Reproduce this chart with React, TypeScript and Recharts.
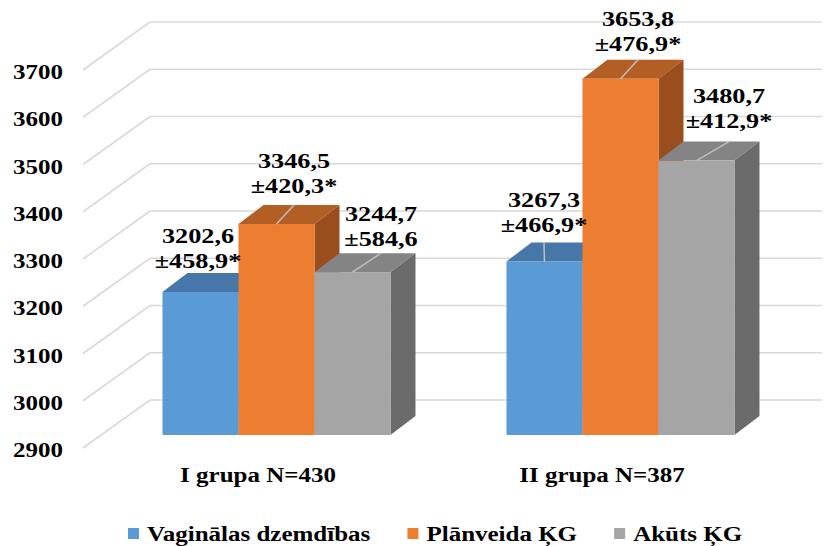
import { BarChart, Bar, XAxis, YAxis, CartesianGrid, Legend, LabelList } from "recharts";

const GROUPS = ["I grupa N=430", "II grupa N=387"];

const VAGINAL = [3202.6, 3267.3];
const VAGINAL_SD = [458.9, 466.9];
const VAGINAL_SIG = [true, true];

const PLANNED = [3346.5, 3653.8];
const PLANNED_SD = [420.3, 476.9];
const PLANNED_SIG = [true, true];

const ACUTE = [3244.7, 3480.7];
const ACUTE_SD = [584.6, 412.9];
const ACUTE_SIG = [false, true];

const Y_TICKS = [2900, 3000, 3100, 3200, 3300, 3400, 3500, 3600, 3700];

const WIDTH = 826;
const HEIGHT = 546;
const FONT = "'Liberation Serif', 'Times New Roman', serif";
const STRETCH = 1.25; // glyphs are drawn a bit wider than tall

// fake 3D: bars sit a little behind the axis plane and have their own depth
const SHIFT_X = 18;
const SHIFT_Y = -13;
const DEPTH_X = 25;
const DEPTH_Y = -19;
// the back wall of the plot
const WALL_X = 64;
const WALL_Y = -48;

const SERIES = [
  {
    key: "vaginal",
    name: "Vaginālas dzemdības",
    values: VAGINAL,
    sd: VAGINAL_SD,
    sig: VAGINAL_SIG,
    front: "#5B9BD5",
    top: "#4677A8",
    side: "#3F6C98",
    nudge: [[-15, -5], [-13, -10]],
    leader: [false, true],
  },
  {
    key: "planned",
    name: "Plānveida ĶG",
    values: PLANNED,
    sd: PLANNED_SD,
    sig: PLANNED_SIG,
    front: "#ED7D31",
    top: "#B35E24",
    side: "#9A4E1D",
    nudge: [[5, -12], [5, -9]],
    leader: [true, true],
  },
  {
    key: "acute",
    name: "Akūts ĶG",
    values: ACUTE,
    sd: ACUTE_SD,
    sig: ACUTE_SIG,
    front: "#A5A5A5",
    top: "#848484",
    side: "#6B6B6B",
    nudge: [[16, -7], [20, -14]],
    leader: [true, true],
  },
];

const data = GROUPS.map((group, i) => {
  const row: Record<string, string | number> = { group };
  SERIES.forEach((s) => (row[s.key] = s.values[i]));
  return row;
});

const fmt = (v: number) => v.toFixed(1).replace(".", ",");

function Stretch({ x, y, size, anchor = "middle", children }: any) {
  return (
    <g transform={`translate(${x},${y}) scale(${STRETCH},1)`}>
      <text
        x={0}
        y={0}
        textAnchor={anchor}
        fontFamily={FONT}
        fontWeight={700}
        fontSize={size}
        fill="#000"
      >
        {children}
      </text>
    </g>
  );
}

const gridLine = (p: any) => {
  const { x1, y1, x2 } = p;
  const bx = x1 + WALL_X;
  const by = y1 + WALL_Y;
  return (
    <g key={p.key ?? `g-${y1}`}>
      <line x1={x1 - 3} y1={y1} x2={bx} y2={by} stroke="#D9D9D9" strokeWidth={1.6} />
      <line x1={bx} y1={by} x2={x2 + 48} y2={by} stroke="#D9D9D9" strokeWidth={1.6} />
    </g>
  );
};

const makeShape = (s: (typeof SERIES)[number]) => (props: any) => {
  const { x, y, width, height } = props;
  const fx = x + SHIFT_X;
  const fy = y + SHIFT_Y;
  const r = fx + width;
  const b = fy + height;
  return (
    <g>
      <polygon
        points={`${fx},${fy} ${fx + DEPTH_X},${fy + DEPTH_Y} ${r + DEPTH_X},${fy + DEPTH_Y} ${r},${fy}`}
        fill={s.top}
      />
      <polygon
        points={`${r},${fy} ${r + DEPTH_X},${fy + DEPTH_Y} ${r + DEPTH_X},${b + DEPTH_Y} ${r},${b}`}
        fill={s.side}
      />
      <rect x={fx} y={fy} width={width} height={height} fill={s.front} />
    </g>
  );
};

const makeLabel = (s: (typeof SERIES)[number]) => (props: any) => {
  const { x, y, width, index } = props;
  const [nx, ny] = s.nudge[index];
  const cx = x + SHIFT_X + width / 2;
  const fy = y + SHIFT_Y;
  const backY = fy + DEPTH_Y;
  const lx = cx + DEPTH_X / 2 + nx;
  const base = backY + ny;
  return (
    <g>
      {s.leader[index] && (
        <line x1={cx} y1={fy} x2={lx} y2={backY} stroke="#BFBFBF" strokeWidth={1.5} />
      )}
      <Stretch x={lx} y={base - 25} size={21}>
        {fmt(s.values[index])}
      </Stretch>
      <Stretch x={lx} y={base} size={21}>
        {`±${fmt(s.sd[index])}${s.sig[index] ? "*" : ""}`}
      </Stretch>
    </g>
  );
};

let ctx: CanvasRenderingContext2D | null = null;
const textWidth = (t: string, size: number) => {
  if (!ctx) ctx = document.createElement("canvas").getContext("2d");
  if (!ctx) return t.length * size * 0.5;
  ctx.font = `bold ${size}px ${FONT}`;
  return ctx.measureText(t).width;
};

function LegendContent() {
  let cursor = 128;
  const items = SERIES.map((s) => {
    const x = cursor;
    const w = textWidth(s.name, 20) * STRETCH;
    cursor += 11 + 8 + w + 37;
    return (
      <g key={s.key}>
        <rect x={x} y={10} width={11} height={11} fill={s.front} />
        <Stretch x={x + 19} y={23} size={20} anchor="start">
          {s.name}
        </Stretch>
      </g>
    );
  });
  return (
    <svg width={WIDTH} height={28} style={{ display: "block" }}>
      {items}
    </svg>
  );
}

export default function App() {
  return (
    <div style={{ position: "absolute", left: 0, top: 0, background: "#fff" }}>
      <BarChart
        width={WIDTH}
        height={HEIGHT}
        data={data}
        margin={{ top: 70, right: 52, left: 26, bottom: 58 }}
        barCategoryGap="17%"
        barGap={0}
      >
        <CartesianGrid vertical={false} horizontal={gridLine} />
        <XAxis
          dataKey="group"
          axisLine={false}
          tickLine={false}
          height={40}
          interval={0}
          tick={(p: any) => (
            <Stretch x={p.x} y={p.y + 26} size={20}>
              {p.payload.value}
            </Stretch>
          )}
        />
        <YAxis
          type="number"
          domain={[2900, 3700]}
          ticks={Y_TICKS}
          interval={0}
          axisLine={false}
          tickLine={false}
          width={60}
          tick={(p: any) => (
            <Stretch x={p.x - 15} y={p.y + 9} size={20} anchor="end">
              {p.payload.value}
            </Stretch>
          )}
        />
        <Legend
          layout="horizontal"
          verticalAlign="middle"
          align="center"
          wrapperStyle={{ top: 518, left: 0, width: WIDTH, height: 28 }}
          content={() => <LegendContent />}
        />
        {SERIES.map((s) => (
          <Bar
            key={s.key}
            dataKey={s.key}
            name={s.name}
            fill={s.front}
            shape={makeShape(s)}
            isAnimationActive={false}
          >
            <LabelList dataKey={s.key} content={makeLabel(s)} />
          </Bar>
        ))}
      </BarChart>
    </div>
  );
}
